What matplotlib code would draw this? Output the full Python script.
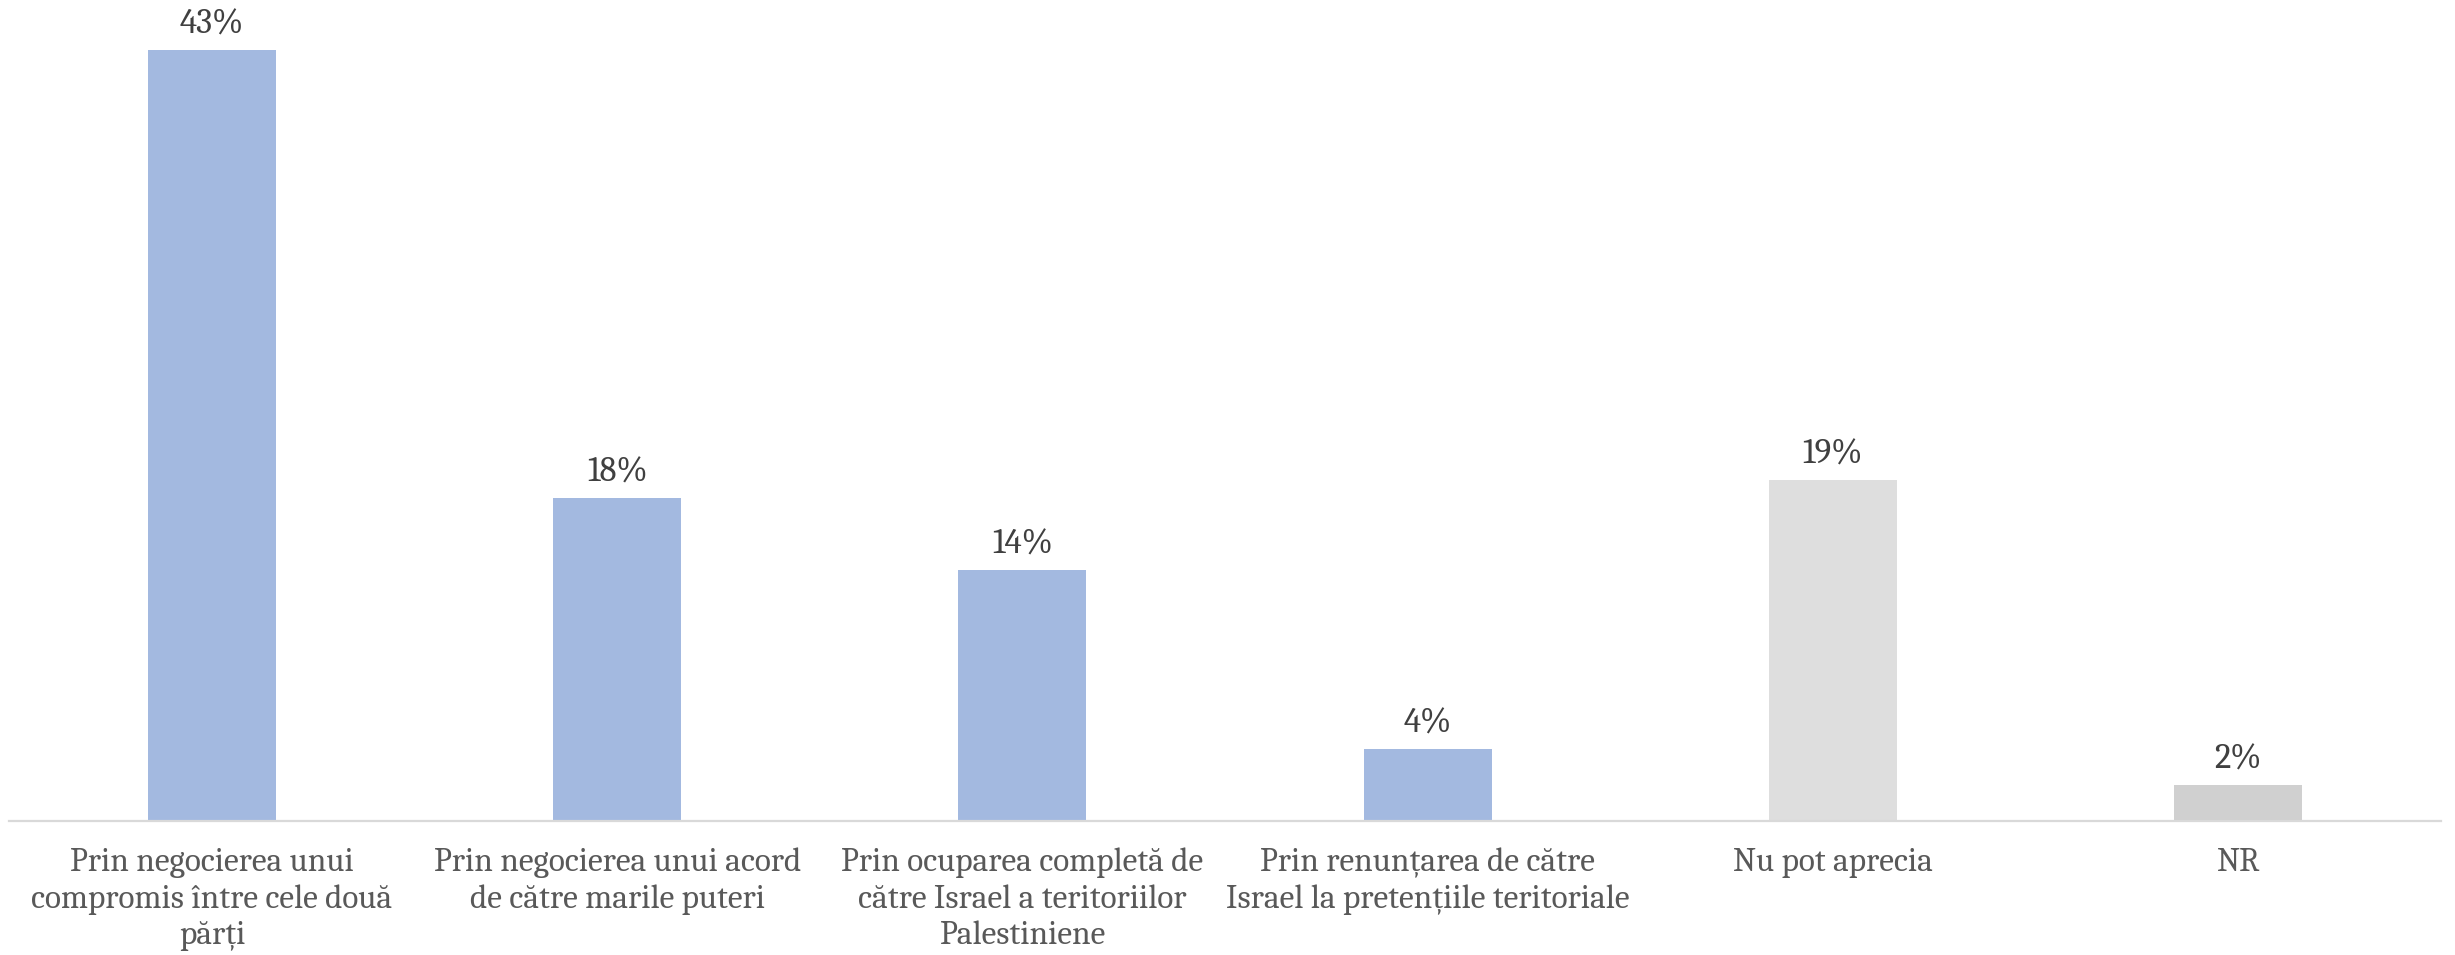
import matplotlib
matplotlib.use("Agg")
import matplotlib.pyplot as plt

categories = [
    "Prin negocierea unui\ncompromis între cele două\npărți",
    "Prin negocierea unui acord\nde către marile puteri",
    "Prin ocuparea completă de\ncătre Israel a teritoriilor\nPalestiniene",
    "Prin renunțarea de către\nIsrael la pretențiile teritoriale",
    "Nu pot aprecia",
    "NR",
]
values = [43, 18, 14, 4, 19, 2]
value_labels = ["43%", "18%", "14%", "4%", "19%", "2%"]
colors = ["#A3B9E0", "#A3B9E0", "#A3B9E0", "#A3B9E0", "#DEDEDE", "#D0D0D0"]

FONT = ["Caladea", "Liberation Serif", "DejaVu Serif"]
W, H, DPI = 2455, 955, 100
fig = plt.figure(figsize=(W / DPI, H / DPI), dpi=DPI)
ax = fig.add_axes([9.4 / W, 1 - 821 / H, (2440.6 - 9.4) / W, 821 / H])

x = list(range(len(categories)))
ax.bar(x, values, width=0.316, color=colors, zorder=2)
ax.set_xlim(-0.5, len(categories) - 0.5)
ax.set_ylim(0, 45.8)

for xi, v, lab in zip(x, values, value_labels):
    ax.annotate(lab, (xi, v), xytext=(0, 12.2), textcoords="offset points",
                ha="center", va="baseline", fontsize=25, color="#404040",
                family=FONT)

for s in ["top", "right", "left"]:
    ax.spines[s].set_visible(False)
ax.spines["bottom"].set_color("#D9D9D9")
ax.spines["bottom"].set_linewidth(1.6)
ax.set_yticks([])
ax.set_xticks(x)
ax.set_xticklabels(categories, fontsize=24, color="#595959",
                   family=FONT, linespacing=1.25)
ax.tick_params(axis="x", length=0, pad=19)

fig.savefig("out.png", dpi=DPI)
